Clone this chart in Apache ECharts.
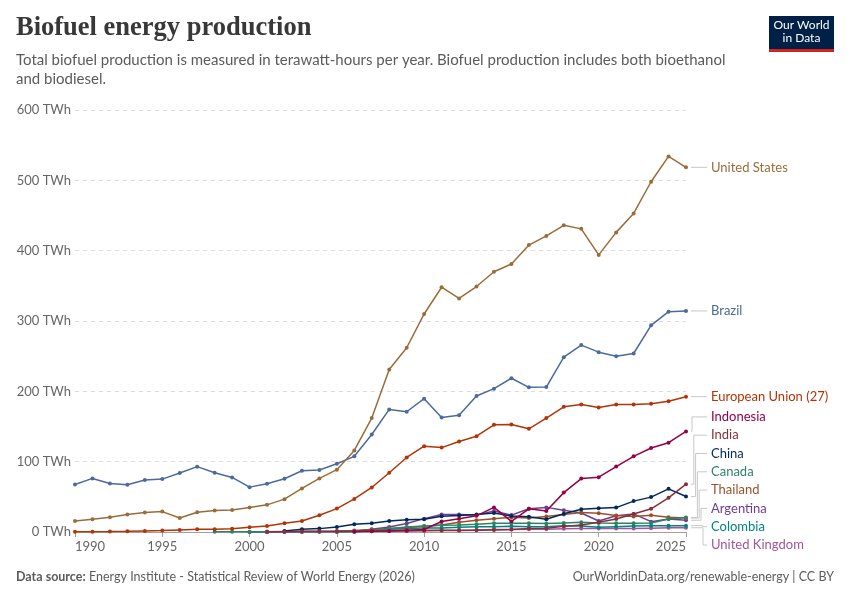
<!DOCTYPE html>
<html>
<head>
<meta charset="utf-8">
<script src="https://cdn.jsdelivr.net/npm/echarts@6/dist/echarts.min.js"></script>
<style>
  html, body { margin: 0; padding: 0; background: #fff; }
  #chart { width: 850px; height: 600px; }
</style>
</head>
<body>
<div id="chart"></div>
<script>
// years on the x axis
const years = [1990, 1991, 1992, 1993, 1994, 1995, 1996, 1997, 1998, 1999,
  2000, 2001, 2002, 2003, 2004, 2005, 2006, 2007, 2008, 2009,
  2010, 2011, 2012, 2013, 2014, 2015, 2016, 2017, 2018, 2019,
  2020, 2021, 2022, 2023, 2024, 2025];
const xTicks = [1990, 1995, 2000, 2005, 2010, 2015, 2020, 2025];
const yTicks = [0, 100, 200, 300, 400, 500, 600];

// TWh per year, null = no data
const unitedStates = [15.7, 18.1, 21, 24.8, 27.6, 29, 20, 28.1, 30.5, 31.4,
  34.7, 38.6, 46.7, 61.9, 76.2, 88.6, 116, 162, 231, 262,
  310, 348, 332, 349, 370, 381, 408, 421, 436, 431,
  394, 426, 453, 498, 534, 518.5];
const brazil = [67.6, 76.2, 69, 67.1, 73.8, 75.2, 83.8, 92.9, 84.3, 77.6,
  63.8, 68.6, 75.7, 87.1, 88.1, 97.1, 107.6, 138.6, 174.3, 171,
  189.5, 162.9, 166, 193.3, 203.8, 218.6, 205.7, 206, 248.6, 265.7,
  255.7, 250, 253.8, 293.8, 313.3, 314.3];
const europeanUnion = [0.5, 0.5, 0.7, 1, 1.5, 2, 3, 4, 4, 4.5,
  6.7, 8.6, 12.4, 15.7, 23.8, 33.3, 47, 63.3, 84.3, 106,
  122, 120, 128.6, 136.2, 152.4, 152.9, 146.7, 162, 178, 181.4,
  177, 181.4, 181.4, 182.4, 186, 192.4];
const indonesia = [null, null, null, null, null, null, null, null, null, null,
  null, null, null, null, null, null, 0.5, 1, 1.5, 2.5,
  3.5, 15, 19, 23, 35, 15, 33, 30, 56, 76,
  78, 93, 107.6, 119.4, 127, 143];
const india = [null, null, null, null, null, null, null, null, null, null,
  null, 0.3, 0.5, 1, 1, 1, 1.2, 1.5, 1.5, 1.5,
  1.8, 2, 2.2, 2.5, 3, 3.5, 5, 5.5, 8, 10,
  13.8, 18.6, 25.7, 33, 48.6, 68];
const china = [null, null, null, null, null, null, null, null, null, null,
  null, null, 1.5, 3.9, 4.8, 7, 11, 12.6, 15.5, 17.3,
  18, 22.5, 23.5, 25, 27, 22.8, 21.8, 18.1, 26, 32.4,
  33.8, 34.7, 43.9, 49.6, 61.4, 50.4];
const canada = [null, null, null, null, null, null, null, null, 0.2, 0.3,
  0.4, 0.5, 0.6, 0.7, 0.8, 1, 1.5, 2.4, 4.8, 7,
  8.6, 9.5, 10, 11, 12.4, 12.4, 12.4, 12, 12.9, 13.8,
  12.9, 12.4, 12.4, 12.9, 18.6, 20.5];
const thailand = [null, null, null, null, null, null, null, null, null, null,
  null, null, null, null, null, 1, 2, 3.5, 5, 6.5,
  8, 10, 13.8, 16.7, 19, 21, 20, 22, 24.8, 27.6,
  26.7, 23.3, 22, 23.8, 21, 19.8];
const argentina = [null, null, null, null, null, null, null, null, null, null,
  0.1, 0.1, 0.1, 0.1, 0.2, 0.3, 1, 4, 7, 12,
  19, 25, 25, 24, 30, 24, 33, 35, 31, 27,
  15.7, 23, 25.7, 14.7, 18.6, 16.7];
const colombia = [null, null, null, null, null, null, null, null, null, null,
  null, null, null, null, null, 0.2, 0.5, 2, 3.8, 4.8,
  5.7, 5.7, 6.7, 7.6, 7.6, 8, 7.6, 7.6, 9, 8.6,
  6.7, 7.6, 8.6, 9, 9, 9];
const unitedKingdom = [null, null, null, null, null, null, null, null, null, null,
  0.1, 0.1, 0.2, 0.2, 0.3, 0.5, 1, 2, 2.5, 2.5,
  2.5, 2.5, 2.5, 3, 3.5, 3.5, 4, 4, 4.5, 5,
  5, 5, 5, 5.5, 6, 6];

const seriesNames = ['United States', 'Brazil', 'European Union (27)', 'Indonesia', 'India',
  'China', 'Canada', 'Thailand', 'Argentina', 'Colombia', 'United Kingdom'];
const seriesValues = [unitedStates, brazil, europeanUnion, indonesia, india,
  china, canada, thailand, argentina, colombia, unitedKingdom];
const seriesColors = ['#996D39', '#4C6A9C', '#B13507', '#970046', '#883039',
  '#00295B', '#2C8465', '#9A5129', '#6D3E91', '#00847E', '#A2559C'];

const FONT = 'Lato, "Noto Sans", sans-serif';
const chart = echarts.init(document.getElementById('chart'), null, { renderer: 'canvas' });

function toPairs(vals) {
  const out = [];
  vals.forEach(function (v, i) {
    if (v !== null) out.push([years[i], v]);
  });
  return out;
}

const series = seriesNames.map(function (name, i) {
  return {
    name: name,
    type: 'line',
    data: toPairs(seriesValues[i]),
    symbol: 'circle',
    symbolSize: 4,
    showSymbol: true,
    z: 20 - i,
    lineStyle: { width: 1.5, color: seriesColors[i] },
    itemStyle: { color: seriesColors[i] },
    emphasis: { disabled: true }
  };
});

const option = {
  backgroundColor: '#ffffff',
  animation: false,
  textStyle: { fontFamily: FONT },
  grid: { left: 75, right: 164, top: 110, bottom: 68 },
  xAxis: {
    type: 'value',
    min: xTicks[0],
    max: xTicks[xTicks.length - 1],
    interval: 5,
    axisLine: { show: true, lineStyle: { color: '#a0a0a0', width: 1 } },
    axisTick: { show: true, length: 5, lineStyle: { color: '#a0a0a0' } },
    splitLine: { show: false },
    axisLabel: {
      color: '#666', fontSize: 13, fontFamily: FONT, margin: 8,
      alignMinLabel: 'left', alignMaxLabel: 'right',
      formatter: function (v) { return String(v); }
    }
  },
  yAxis: {
    type: 'value',
    min: yTicks[0],
    max: yTicks[yTicks.length - 1],
    interval: 100,
    axisLine: { show: false },
    axisTick: { show: false },
    splitLine: { show: true, lineStyle: { color: '#dcdcdc', type: [4, 4], width: 1 } },
    axisLabel: { color: '#666', fontSize: 13, fontFamily: FONT, margin: 4, formatter: '{value} TWh' }
  },
  series: series
};

chart.setOption(option);

// end labels with connector lines
const labelX = 711;
const lineGap = 18.3;
const bottomLimit = 545;
const ends = seriesNames.map(function (name, i) {
  const d = series[i].data;
  const last = d[d.length - 1];
  const p = chart.convertToPixel({ gridIndex: 0 }, last);
  return { name: name, color: seriesColors[i], px: p[0], py: p[1], ly: p[1] };
});
ends.sort(function (a, b) { return a.py - b.py; });
for (let i = 1; i < ends.length; i++) {
  ends[i].ly = Math.max(ends[i].py, ends[i - 1].ly + lineGap);
}
if (ends[ends.length - 1].ly > bottomLimit) {
  ends[ends.length - 1].ly = bottomLimit;
  for (let i = ends.length - 2; i >= 0; i--) {
    ends[i].ly = Math.min(ends[i].ly, ends[i + 1].ly - lineGap);
  }
}

const graphics = [];
let moved = 0;
ends.forEach(function (e) {
  let pts;
  if (Math.abs(e.ly - e.py) < 0.5) {
    pts = [[e.px + 5, e.py], [labelX - 4, e.ly]];
  } else {
    const bx = Math.min(e.px + 6 + moved * 1.8, labelX - 8);
    moved++;
    pts = [[e.px + 5, e.py], [bx, e.py], [bx, e.ly], [labelX - 4, e.ly]];
  }
  graphics.push({
    type: 'polyline', silent: true, z: 5,
    shape: { points: pts },
    style: { stroke: '#c8c8c8', lineWidth: 1, fill: null }
  });
  graphics.push({
    type: 'text', silent: true, z: 5, x: labelX, y: e.ly,
    style: { text: e.name, fill: e.color, font: '13px ' + FONT, textVerticalAlign: 'middle', textAlign: 'left' }
  });
});

// header, logo and footer
graphics.push(
  { type: 'text', left: 16, top: 15, style: { text: 'Biofuel energy production', fill: '#383838',
    font: 'bold 26.5px "Liberation Serif", "DejaVu Serif", serif' } },
  { type: 'text', left: 16, top: 51, style: { text: 'Total biofuel production is measured in terawatt-hours per year. Biofuel production includes both bioethanol\nand biodiesel.',
    fill: '#5b5b5b', font: '15px ' + FONT, lineHeight: 19 } },
  { type: 'rect', shape: { x: 769, y: 16, width: 65, height: 36 }, style: { fill: '#002147' } },
  { type: 'rect', shape: { x: 769, y: 49, width: 65, height: 3 }, style: { fill: '#CE261E' } },
  { type: 'text', x: 801.5, y: 32, style: { text: 'Our World\nin Data', fill: '#ffffff',
    font: '12px ' + FONT, textAlign: 'center', textVerticalAlign: 'middle', lineHeight: 13 } },
  { type: 'text', left: 16, top: 570, style: { rich: {
      b: { fill: '#5b5b5b', font: 'bold 12.5px ' + FONT },
      n: { fill: '#5b5b5b', font: '12.5px ' + FONT } },
    text: '{b|Data source:} {n|Energy Institute - Statistical Review of World Energy (2026)}' } },
  { type: 'text', right: 16, top: 570, style: { text: 'OurWorldinData.org/renewable-energy | CC BY',
    fill: '#5b5b5b', font: '12.5px ' + FONT } }
);

chart.setOption({ graphic: graphics });
</script>
</body>
</html>
